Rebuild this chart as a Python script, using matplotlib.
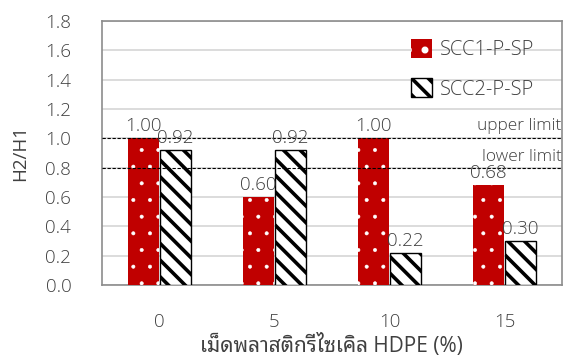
import numpy as np
import matplotlib
matplotlib.use('Agg')
import matplotlib.pyplot as plt

plt.rcParams['font.family'] = ['Open Sans', 'Noto Sans Thai Looped']
plt.rcParams['font.weight'] = 300

categories = ['0', '5', '10', '15']
scc1 = [1.00, 0.60, 1.00, 0.68]
scc2 = [0.92, 0.92, 0.22, 0.30]
series_names = ['SCC1-P-SP', 'SCC2-P-SP']
upper_limit = 1.0
lower_limit = 0.8
yticks = [0.0, 0.2, 0.4, 0.6, 0.8, 1.0, 1.2, 1.4, 1.6, 1.8]

txt = '#404040'
red = '#C00000'

fig = plt.figure(figsize=(5.63, 3.6), dpi=100)
ax = fig.add_axes([0.181, 0.208, 0.817, 0.734])

x = np.arange(len(categories))
w = 0.27

# red bars, small white dots
plt.rcParams['hatch.linewidth'] = 0.4
b1 = ax.bar(x - w / 2 - 0.005, scc1, w, color=red, edgecolor='white',
            hatch='.', linewidth=0, zorder=3, label=series_names[0])
# white bars, thick black diagonal stripes
plt.rcParams['hatch.linewidth'] = 2.6
b2 = ax.bar(x + w / 2 + 0.005, scc2, w, color='white', edgecolor='black',
            hatch='\\\\', linewidth=1.0, zorder=3, label=series_names[1])

for bars, vals in ((b1, scc1), (b2, scc2)):
    for r, v in zip(bars, vals):
        ax.text(r.get_x() + r.get_width() / 2, v + 0.02, '%.2f' % v,
                ha='center', va='bottom', fontsize=13.5, color=txt, zorder=5)

ax.axhline(upper_limit, color='black', lw=0.8, ls=(0, (3, 1.5)), zorder=4)
ax.axhline(lower_limit, color='black', lw=0.8, ls=(0, (3, 1.5)), zorder=4)
ax.text(1.0, upper_limit + 0.03, 'upper limit', transform=ax.get_yaxis_transform(),
        ha='right', va='bottom', fontsize=12.5, color=txt, zorder=5)
ax.text(1.0, lower_limit + 0.015, 'lower limit', transform=ax.get_yaxis_transform(),
        ha='right', va='bottom', fontsize=12.5, color=txt, zorder=5)

ax.set_xlim(-0.5, 3.5)
ax.set_ylim(0, 1.8)
ax.set_xticks(x)
ax.set_xticklabels(categories)
ax.set_yticks(yticks)
ax.set_yticklabels(['%.1f' % t for t in yticks])
ax.tick_params(axis='both', length=0, labelsize=13.5, labelcolor=txt)
ax.tick_params(axis='y', pad=22)
ax.tick_params(axis='x', pad=20)
ax.yaxis.grid(True, color='#d9d9d9', lw=1.3, zorder=0)
ax.set_axisbelow(True)
for s in ax.spines.values():
    s.set_color('#8c8c8c')
    s.set_linewidth(1.2)

ax.set_ylabel('H2/H1', fontsize=13.5, color=txt, labelpad=12)
ax.set_xlabel('เม็ดพลาสติกรีไซเคิล HDPE (%)', fontsize=15, color=txt, labelpad=2)

ax.legend(loc='upper left', bbox_to_anchor=(0.632, 1.0), frameon=False,
          fontsize=14.5, labelcolor=txt, handlelength=1.05, handleheight=1.05,
          labelspacing=0.9, handletextpad=0.4)

fig.savefig('out.png', dpi=100)
